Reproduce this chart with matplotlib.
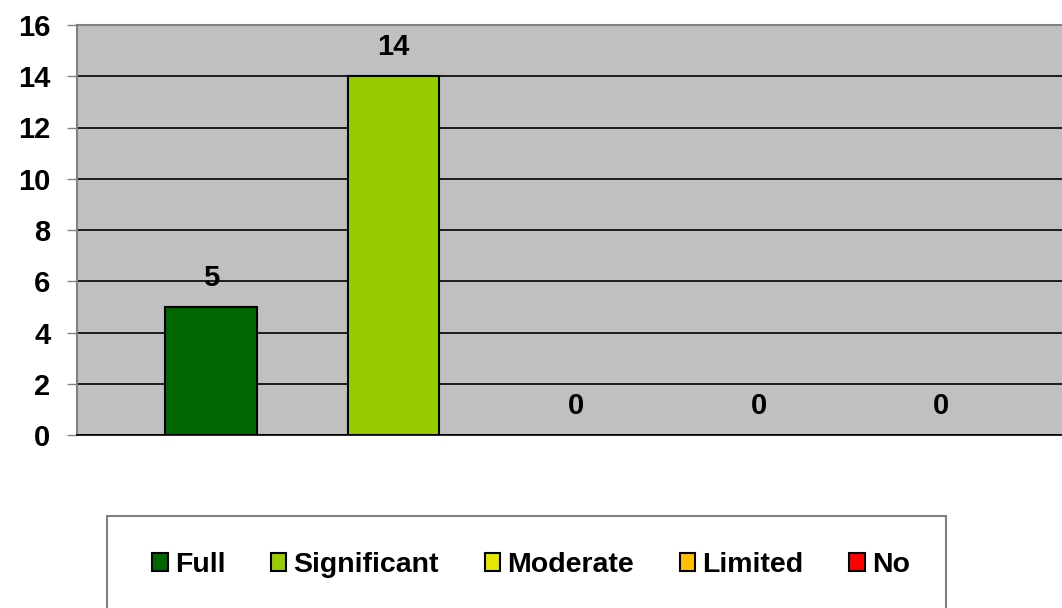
import numpy as np
import matplotlib.pyplot as plt
from matplotlib.patches import Patch, Rectangle

plt.rcParams['font.family'] = ['Liberation Sans', 'DejaVu Sans']
plt.rcParams['font.weight'] = 'bold'

# data
levels = ["Full", "Significant", "Moderate", "Limited", "No"]
counts = [5, 14, 0, 0, 0]
colors = ["#006600", "#99CC00", "#E6E600", "#FFC000", "#FF0000"]
yticks = [0, 2, 4, 6, 8, 10, 12, 14, 16]

fig = plt.figure(figsize=(10.62, 6.08), dpi=100)
ax = fig.add_axes([77/1062, 1-435/608, 1-77/1062 + 0.01, (435-25)/608])
ax.set_facecolor("#C0C0C0")

x = np.arange(len(levels))
ec = ["black" if v > 0 else "none" for v in counts]
ax.bar(x, counts, width=0.5, color=colors, edgecolor=ec, linewidth=1.5, zorder=3)
for xi, v in zip(x, counts):
    ax.annotate(str(v), (xi, v), xytext=(0, 11), textcoords="offset points",
                ha="center", va="bottom", fontsize=21, fontweight="bold")

ax.set_xlim(-0.734, 4.72)
ax.set_ylim(0, 16)
ax.set_yticks(yticks)
ax.set_xticks([])
ax.yaxis.grid(True, color="black", linewidth=1.2, zorder=1)
ax.tick_params(axis="y", length=7, width=1, color="#808080", pad=12, labelsize=21)
for s in ["left", "top", "bottom", "right"]:
    ax.spines[s].set_color("#808080")
    ax.spines[s].set_linewidth(1.5)
ax.spines["bottom"].set_color("black")
ax.spines["bottom"].set_linewidth(1.2)

# legend box
fig.patches.append(Rectangle((107/1062, -0.05), (946-107)/1062, 0.05 + 1-516/608,
                             transform=fig.transFigure, facecolor="white",
                             edgecolor="#808080", linewidth=1.5))
handles = [Patch(facecolor=c, edgecolor="black", linewidth=1.5) for c in colors]
fig.legend(handles, levels, loc="center", bbox_to_anchor=(0.5, 1-565/608), ncol=5,
           frameon=False, handlelength=0.55, handleheight=0.55,
           handletextpad=0.25, columnspacing=1.6, prop={"weight": "bold", "size": 20.5})

fig.savefig("out.png", dpi=100)
